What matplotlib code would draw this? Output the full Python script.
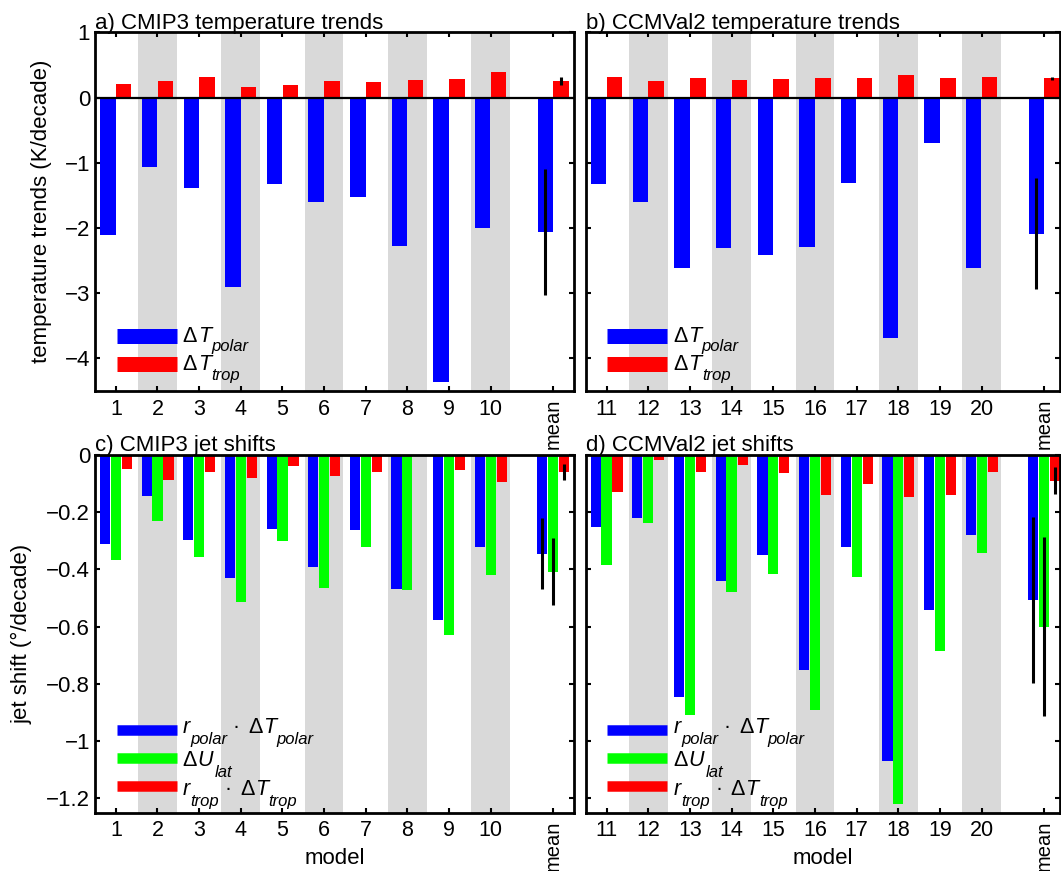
import numpy as np
import matplotlib
matplotlib.use("Agg")
import matplotlib.pyplot as plt
from matplotlib.lines import Line2D

plt.rcParams['font.family'] = ['Liberation Sans', 'DejaVu Sans']

# model numbers
models_cmip = [1, 2, 3, 4, 5, 6, 7, 8, 9, 10]
models_ccm = [11, 12, 13, 14, 15, 16, 17, 18, 19, 20]

# temperature trends (K/decade)
dT_polar_cmip = [-2.11, -1.07, -1.39, -2.91, -1.33, -1.60, -1.53, -2.28, -4.36, -2.00]
dT_trop_cmip = [0.20, 0.255, 0.31, 0.16, 0.19, 0.25, 0.235, 0.27, 0.28, 0.39]
dT_polar_ccm = [-1.32, -1.60, -2.61, -2.30, -2.42, -2.29, -1.31, -3.68, -0.70, -2.61]
dT_trop_ccm = [0.31, 0.25, 0.30, 0.265, 0.285, 0.295, 0.295, 0.35, 0.305, 0.315]

# multi-model means and spread
dT_polar_cmip_mean, dT_polar_cmip_err = -2.06, 0.97
dT_trop_cmip_mean, dT_trop_cmip_err = 0.255, 0.065
dT_polar_ccm_mean, dT_polar_ccm_err = -2.09, 0.85
dT_trop_ccm_mean, dT_trop_ccm_err = 0.295, 0.025

# jet shifts (deg/decade)
js_polar_cmip = [-0.313, -0.143, -0.297, -0.431, -0.258, -0.392, -0.262, -0.469, -0.578, -0.321]
js_lat_cmip = [-0.366, -0.231, -0.357, -0.515, -0.300, -0.467, -0.322, -0.473, -0.631, -0.419]
js_trop_cmip = [-0.051, -0.088, -0.060, -0.081, -0.041, -0.073, -0.059, -0.003, -0.052, -0.097]
js_polar_ccm = [-0.253, -0.220, -0.847, -0.442, -0.349, -0.750, -0.324, -1.071, -0.541, -0.281]
js_lat_ccm = [-0.384, -0.238, -0.910, -0.481, -0.415, -0.893, -0.427, -1.220, -0.684, -0.343]
js_trop_ccm = [-0.129, -0.017, -0.062, -0.037, -0.064, -0.141, -0.101, -0.148, -0.142, -0.062]

js_cmip_mean = [-0.345, -0.408, -0.060]
js_cmip_err = [0.123, 0.116, 0.027]
js_ccm_mean = [-0.508, -0.600, -0.091]
js_ccm_err = [0.289, 0.314, 0.047]

temp_yticklabels = ['\u22124', '\u22123', '\u22122', '\u22121', '0', '1']
jet_yticklabels = ['\u22121.2', '\u22121', '\u22120.8', '\u22120.6', '\u22120.4', '\u22120.2', '0']

BLUE, RED, GREEN = (0, 0, 1), (1, 0, 0), (0, 1, 0)
GRAY = '#d9d9d9'

W, H = 1061, 871
fig = plt.figure(figsize=(W / 100, H / 100), dpi=100)
renderer = fig.canvas.get_renderer()

MAIN, SUB = 15.5, 12


def add_ax(l, r, t, b):
    return fig.add_axes([l / W, 1 - b / H, (r - l) / W, (b - t) / H])


def style(ax, models, xlim, ylim, yticks, ylabels):
    mean_x = models[-1] + 1.5
    for m in models[1::2]:
        ax.axvspan(m - 0.465, m + 0.465, color=GRAY, lw=0, zorder=0)
    ax.set_xlim(*xlim)
    ax.set_ylim(*ylim)
    ax.set_xticks(models + [mean_x])
    ax.set_xticklabels([str(m) for m in models] + ['mean'])
    ax.set_yticks(yticks)
    if ylabels is None:
        ax.set_yticklabels([])
    else:
        ax.set_yticklabels(ylabels)
    ax.tick_params(direction='in', top=True, right=True, length=3.6, width=1.5)
    ax.tick_params(axis='x', pad=5.5, labelsize=15.5)
    ax.tick_params(axis='y', pad=3.5, labelsize=16)
    last = ax.get_xticklabels()[-1]
    last.set_rotation(90)
    last.set_fontsize(14.5)
    for s in ax.spines.values():
        s.set_linewidth(2.0)
    return mean_x


def text_chain(x, y, pieces):
    # pieces: (string, size, italic, drop below baseline px, gap before px)
    for s, size, italic, drop, gap in pieces:
        t = fig.text((x + gap) / W, 1 - (y + drop) / H, s, fontsize=size,
                     style='italic' if italic else 'normal',
                     ha='left', va='baseline')
        x = t.get_window_extent(renderer).x1


def legend(left_px, entries):
    # entries: (color, handle centre y px, handle height px, text baseline y px, pieces)
    for color, yc, hh, yb, pieces in entries:
        fig.add_artist(Line2D([(left_px + 21.5) / W, (left_px + 81.5) / W],
                              [1 - yc / H, 1 - yc / H], color=color,
                              lw=hh * 0.72, solid_capstyle='butt'))
        text_chain(left_px + 87.7, yb, pieces)


def dT(sub):
    return [('\u0394', MAIN, False, 0, 0), ('T', MAIN, True, 0, 0.5),
            (sub, SUB, True, 10, 0.5)]


def rdT(sub):
    return [('r', MAIN, True, 0, 0), (sub, SUB, True, 10.5, 0.5),
            ('\u00b7', MAIN, False, 0, 5.5), ('\u0394', MAIN, False, 0, 8.5),
            ('T', MAIN, True, 0, 0.5), (sub, SUB, True, 10.5, 0.5)]


def temp_panel(ax, left_px, models, polar, trop, pm, pe, tm, te, xlim, ylabels, title):
    mean_x = style(ax, models, xlim, (-4.5, 1), [-4, -3, -2, -1, 0, 1], ylabels)
    x = np.array(models + [mean_x], dtype=float)
    w = 0.37
    ax.bar(x - 0.19, polar + [pm], w, color=BLUE, zorder=2)
    ax.bar(x + 0.19, trop + [tm], w, color=RED, zorder=2)
    ax.axhline(0, color='k', lw=1.6, zorder=3)
    ax.errorbar([mean_x - 0.19, mean_x + 0.19], [pm, tm], yerr=[pe, te],
                fmt='none', ecolor='k', elinewidth=2.2, capsize=0, zorder=4)
    ax.set_title(title, loc='left', fontsize=16, pad=2.5)
    legend(left_px, [(BLUE, 335.6, 15, 341.5, dT('polar')),
                     (RED, 363.6, 15, 369.7, dT('trop'))])


def jet_panel(ax, left_px, models, polar, lat, trop, means, errs, xlim, ylabels, title):
    mean_x = style(ax, models, xlim, (-1.25, 0),
                   [-1.2, -1.0, -0.8, -0.6, -0.4, -0.2, 0], ylabels)
    x = np.array(models + [mean_x], dtype=float)
    w = 0.245
    ax.bar(x - 0.26, polar + [means[0]], w, color=BLUE, zorder=2)
    ax.bar(x, lat + [means[1]], w, color=GREEN, zorder=2)
    ax.bar(x + 0.265, trop + [means[2]], w, color=RED, zorder=2)
    ax.errorbar([mean_x - 0.26, mean_x, mean_x + 0.265], means, yerr=errs,
                fmt='none', ecolor='k', elinewidth=2.2, capsize=0, zorder=4)
    ax.set_title(title, loc='left', fontsize=16, pad=2.5)
    ax.set_xlabel('model', fontsize=16)
    ax.xaxis.set_label_coords(0.5, -0.098)
    dU = [('\u0394', MAIN, False, 0, 0), ('U', MAIN, True, 0, 0.5),
          ('lat', SUB, True, 10.5, 2)]
    legend(left_px, [(BLUE, 730.0, 10.5, 733.0, rdT('polar')),
                     (GREEN, 758.0, 10.5, 766.0, dU),
                     (RED, 785.7, 10.5, 795.0, rdT('trop'))])


AL, AR, BL, BR = 95.0, 574.0, 585.7, 1060.0
ax_a = add_ax(AL, AR, 32.3, 391)
ax_b = add_ax(BL, BR, 32.3, 391)
ax_c = add_ax(AL, AR, 454.7, 812.7)
ax_d = add_ax(BL, BR, 454.7, 812.7)

temp_panel(ax_a, AL, models_cmip, dT_polar_cmip, dT_trop_cmip,
           dT_polar_cmip_mean, dT_polar_cmip_err, dT_trop_cmip_mean, dT_trop_cmip_err,
           (0.5, 12.0), temp_yticklabels, 'a) CMIP3 temperature trends')
temp_panel(ax_b, BL, models_ccm, dT_polar_ccm, dT_trop_ccm,
           dT_polar_ccm_mean, dT_polar_ccm_err, dT_trop_ccm_mean, dT_trop_ccm_err,
           (10.5, 21.88), None, 'b) CCMVal2 temperature trends')
jet_panel(ax_c, AL, models_cmip, js_polar_cmip, js_lat_cmip, js_trop_cmip,
          js_cmip_mean, js_cmip_err, (0.5, 12.0), jet_yticklabels,
          'c) CMIP3 jet shifts')
jet_panel(ax_d, BL, models_ccm, js_polar_ccm, js_lat_ccm, js_trop_ccm,
          js_ccm_mean, js_ccm_err, (10.5, 21.88), None, 'd) CCMVal2 jet shifts')

ax_a.set_ylabel('temperature trends (K/decade)', fontsize=16)
ax_a.yaxis.set_label_coords(-0.090, 0.5)
ax_c.set_ylabel('jet shift (\u00b0/decade)', fontsize=16)
ax_c.yaxis.set_label_coords(-0.130, 0.5)

fig.savefig('out.png', dpi=100)
